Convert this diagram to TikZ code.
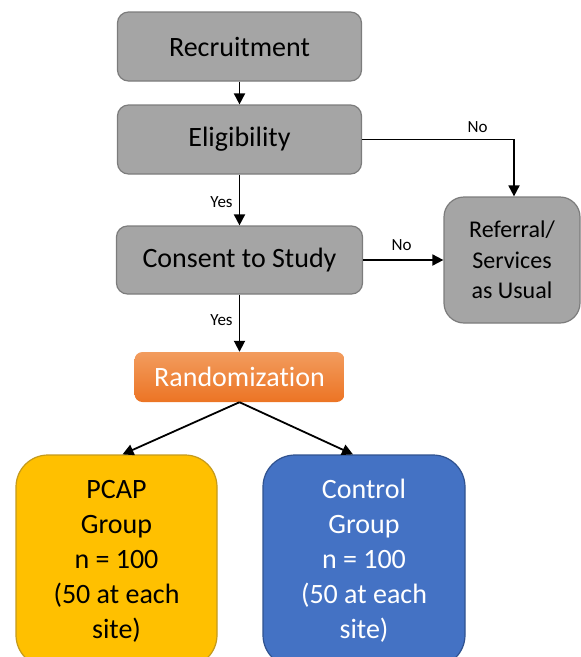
\documentclass[tikz,border=0pt]{standalone}
\usepackage{fontspec}
\setmainfont[Ligatures=NoCommon]{Carlito}
\usetikzlibrary{arrows.meta,positioning}

\definecolor{boxgray}{HTML}{A5A5A5}
\definecolor{boxgrayline}{HTML}{7C7C7C}
\definecolor{randtop}{HTML}{F29C5E}
\definecolor{randbot}{HTML}{EC7424}
\definecolor{pcapfill}{HTML}{FFC000}
\definecolor{pcapline}{HTML}{C49A1C}
\definecolor{ctrlfill}{HTML}{4472C4}
\definecolor{ctrlline}{HTML}{30528F}

\tikzset{
  flowbox/.style={draw=boxgrayline, line width=1.2pt, fill=boxgray,
    rounded corners=11pt, align=center, inner sep=0pt,
    font=\fontsize{28}{34}\selectfont},
  randbox/.style={rounded corners=8pt, top color=randtop, bottom color=randbot,
    draw=none, text=white, inner sep=0pt,
    font=\fontsize{28}{34}\selectfont},
  groupbox/.style={rounded corners=32pt, line width=1.2pt, align=center,
    inner sep=0pt, minimum width=201pt, minimum height=212pt,
    font=\fontsize{28}{35}\selectfont},
  flowarrow/.style={line width=1.8pt, -{Triangle[length=11pt,width=11pt]}},
  flowlabel/.style={font=\fontsize{17}{20}\selectfont, inner sep=0pt},
}

\begin{document}
\begin{tikzpicture}[x=1pt,y=-1pt]
  \useasboundingbox (0,0) rectangle (581,657);

  % main sequence of steps
  \node[flowbox, minimum width=244pt, minimum height=69pt] (rec) at (239.5,46.5) {Recruitment};
  \node[flowbox, minimum width=244pt, minimum height=69pt] (elig) at (239.5,139.5) {Eligibility};
  \node[flowbox, minimum width=246pt, minimum height=68pt] (cons) at (239.5,260) {Consent to Study};
  \node[randbox, minimum width=210pt, minimum height=50pt] (rand) at (239.5,377) {Randomization};

  % exit for those not eligible or not consenting
  \node[flowbox, rounded corners=20pt, minimum width=136pt, minimum height=126pt,
        font=\fontsize{24}{30.5}\selectfont] (ref) at (512,260) {Referral/\\Services\\as Usual};

  % study arms
  \node[groupbox, fill=pcapfill, draw=pcapline] (pcap) at (116.5,561)
    {PCAP\\Group\\n = 100\\(50 at each\\site)};
  \node[groupbox, fill=ctrlfill, draw=ctrlline, text=white, minimum width=202pt] (ctrl) at (364,561)
    {Control\\Group\\n = 100\\(50 at each\\site)};

  % connectors
  \draw[flowarrow] (rec) -- (elig);
  \draw[flowarrow] (elig) -- node[flowlabel, left=6pt, pos=0.55] {Yes} (cons);
  \draw[flowarrow] (cons) -- node[flowlabel, left=6pt, pos=0.45] {Yes} (rand);
  \draw[flowarrow] (elig.east) -| node[flowlabel, above=6pt, pos=0.38] {No} ([xshift=2pt]ref.north);
  \draw[flowarrow] (cons.east) -- node[flowlabel, above=8pt, pos=0.48] {No} (ref.west);
  \draw[flowarrow] (rand.south) -- ([xshift=6pt]pcap.north);
  \draw[flowarrow] (rand.south) -- ([xshift=-11pt]ctrl.north);
\end{tikzpicture}
\end{document}
